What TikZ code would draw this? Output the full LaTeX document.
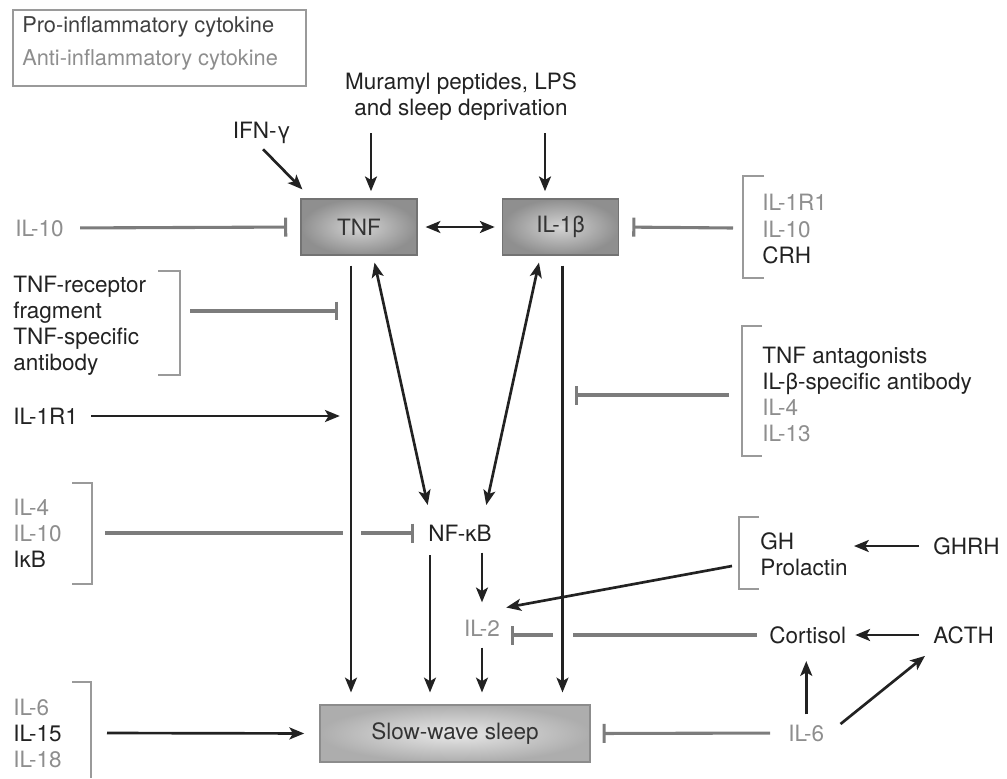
\documentclass[tikz,border=0pt]{standalone}
\usepackage{fontspec}
\setmainfont{TeX Gyre Heros}
\usetikzlibrary{arrows.meta}
\definecolor{protext}{HTML}{222222}
\definecolor{antitext}{HTML}{8E8E8E}
\definecolor{inhibgray}{HTML}{7C7C7C}
\definecolor{framegray}{HTML}{9A9A9A}

\begin{document}
\begin{tikzpicture}[
    x=0.025cm, y=-0.025cm,
    >={Stealth[length=10.5pt,width=8.5pt,inset=2.5pt]},
    pro/.style={text=protext, inner sep=0pt, align=left, font=\fontsize{16}{18.5}\selectfont},
    anti/.style={pro, text=antitext},
    cytokine/.style={draw=black!55, line width=0.8pt, inner color=black!17, outer color=black!44, minimum width=2.9cm, minimum height=1.4cm, text=black!80, font=\fontsize{16}{18.5}\selectfont},
    sleepbox/.style={cytokine, draw=black!45, inner color=black!9, outer color=black!32, minimum width=6.75cm, minimum height=1.425cm},
    act/.style={->, line width=1.9pt, draw=protext},
    twoway/.style={<->, line width=1.9pt, draw=protext},
    inhib/.style={-{Bar[width=13.5pt]}, line width=2.2pt, draw=inhibgray},
    plain/.style={line width=2.2pt, draw=inhibgray},
    bracket/.style={line width=0.9pt, draw=framegray}
]
\useasboundingbox (0,0) rectangle (1007,778);

% legend
\node[pro, anchor=west, text=black!75, font=\fontsize{15.5}{18}\selectfont] (leg-pro) at (22,27) {Pro-inflammatory cytokine};
\node[anti, anchor=west, font=\fontsize{15.5}{18}\selectfont] (leg-anti) at (22,60) {Anti-inflammatory cytokine};
\draw[bracket] (13,10) rectangle (306,86);

% main cytokines
\node[pro, align=center] (stim) at (461,97) {Muramyl peptides, LPS\\and sleep deprivation};
\node[pro] (ifn) at (262,133) {IFN-γ};
\node[cytokine] (tnf) at (359,227) {TNF};
\node[cytokine] (il1b) at (560.5,227) {IL-1β};
\node[sleepbox] (sws) at (455,733.5) {Slow-wave sleep};

\coordinate (tnf-in) at ([shift={(12,0)}]tnf.north);
\coordinate (il1b-in) at ([shift={(-15.5,0)}]il1b.north);
\coordinate (tnf-out) at ([shift={(-8,0)}]tnf.south);
\coordinate (il1b-out) at ([shift={(2,0)}]il1b.south);

\draw[act, shorten <=0.18cm] ([shift={(-4,0)}]ifn.south) -- ([shift={(2,-9)}]tnf.north west);
\draw[act, shorten <=0.3cm, shorten >=0.18cm] (stim.south -| tnf-in) -- (tnf-in);
\draw[act, shorten <=0.3cm, shorten >=0.18cm] (stim.south -| il1b-in) -- (il1b-in);
\draw[twoway, shorten <=0.2cm, shorten >=0.18cm] (tnf.east) -- (il1b.west);

% left of TNF
\node[anti, anchor=west] (il10-l) at (15,228) {IL-10};
\draw[inhib, shorten <=0.4cm, shorten >=0.33cm] (il10-l.east) -- (tnf.west);

% right of IL-1b
\node[anti, anchor=west] (grp-il1b) at (762,229) {IL-1R1\\IL-10\\\textcolor{protext}{CRH}};
\draw[bracket] (764,176) -| (743,278) -- (764,278);
\coordinate (brk-il1b) at (733,228);
\draw[inhib, shorten >=0.33cm] (brk-il1b) -- (il1b.east);

% TNF-receptor group
\node[pro, anchor=west] (grp-tnfr) at (13,326) {TNF-receptor\\fragment\\TNF-specific\\antibody};
\draw[bracket] (158,271) -| (180,375) -- (158,375);
\coordinate (brk-tnfr) at (190,311);
\coordinate (x-tnfr) at (brk-tnfr -| tnf-out);
\draw[inhib, shorten >=0.33cm] (brk-tnfr) -- (x-tnfr);

\node[pro, anchor=west] (il1r1) at (13,416) {IL-1R1};
\draw[act, shorten <=0.33cm, shorten >=0.28cm] (il1r1.east) -- (il1r1.east -| tnf-out);

% NF-kB
\node[pro] (nfkb) at (460,533) {NF-κB};
\draw[twoway, shorten <=0.18cm, shorten >=0.5cm] ([shift={(14,0)}]tnf.south) -- ([shift={(-28,0)}]nfkb.north);
\draw[twoway, shorten <=0.18cm, shorten >=0.5cm] ([shift={(-20,0)}]il1b.south) -- ([shift={(22,0)}]nfkb.north);

\node[anti, anchor=west] (grp-ikb) at (13,533) {IL-4\\IL-10\\\textcolor{protext}{IκB}};
\draw[bracket] (72,483) -| (92,584) -- (72,584);
\coordinate (brk-ikb) at (105,533);
\coordinate (x-ikb) at (brk-ikb -| tnf-out);
\draw[plain] (brk-ikb) -- ([shift={(-8,0)}]x-ikb);
\draw[inhib, shorten >=0.36cm] ([shift={(10,0)}]x-ikb) -- (nfkb.west);

% IL-2
\node[anti] (il2) at (482,628) {IL-2};
\coordinate (nfkb-l) at ([shift={(-30,0)}]nfkb.south);
\draw[act, shorten <=0.35cm, shorten >=0.3cm] (nfkb-l) -- (nfkb-l |- sws.north);
\draw[act, shorten <=0.28cm, shorten >=0.43cm] (nfkb.south -| il2) -- (il2.north);
\draw[act, shorten <=0.28cm, shorten >=0.3cm] (il2.south) -- (il2.south |- sws.north);

% to slow-wave sleep
\draw[act, shorten <=0.25cm, shorten >=0.3cm] (tnf-out) -- (tnf-out |- sws.north);
\draw[act, shorten <=0.25cm, shorten >=0.3cm] (il1b-out) -- (il1b-out |- sws.north);

% antagonists
\node[pro, anchor=west] (grp-ant) at (762,394) {TNF antagonists\\IL-β-specific antibody\\\textcolor{antitext}{IL-4}\\\textcolor{antitext}{IL-13}};
\draw[bracket] (762,326) -| (742,456) -- (762,456);
\coordinate (brk-ant) at (729,395);
\draw[inhib, shorten >=0.3cm] (brk-ant) -- (brk-ant -| il1b-out);

% GH and prolactin
\node[pro, anchor=west] (grp-gh) at (760,554.5) {GH\\Prolactin};
\draw[bracket] (759,517) -| (739,589) -- (759,589);
\node[pro, anchor=west] (ghrh) at (933,546) {GHRH};
\draw[act, shorten <=0.35cm, shorten >=0.15cm] (ghrh.west) -- (ghrh.west -| grp-gh.east);
\coordinate (brk-gh) at (732,566);
\draw[act] (brk-gh) -- ([shift={(6,-12)}]il2.north east);

% cortisol axis
\node[pro, anchor=west] (cort) at (769,635) {Cortisol};
\node[pro, anchor=west] (acth) at (933,635) {ACTH};
\draw[act, shorten <=0.35cm, shorten >=0.22cm] (acth.west) -- (cort.east);
\coordinate (x-cort) at (cort.west -| il1b-out);
\draw[plain, shorten <=0.3cm] (cort.west) -- ([shift={(10,0)}]x-cort);
\draw[inhib, shorten >=0.26cm] ([shift={(-10,0)}]x-cort) -- (il2.east |- cort.west);

\node[anti, anchor=west] (il6r) at (788,733) {IL-6};
\draw[act, shorten <=0.25cm, shorten >=0.43cm] (il6r.north) -- (il6r.north |- cort.south);
\draw[act] ([shift={(16,-9)}]il6r.east) -- ([shift={(-8,12)}]acth.south west);
\draw[inhib, shorten <=0.45cm, shorten >=0.3cm] (il6r.west) -- (sws.east);

% IL-15 group
\node[anti, anchor=west] (grp-il15) at (13,733) {IL-6\\\textcolor{protext}{IL-15}\\IL-18};
\draw[bracket] (72,682) -| (91,778);
\coordinate (brk-il15) at (107,733);
\draw[act, shorten >=0.38cm] (brk-il15) -- (sws.west);
\end{tikzpicture}
\end{document}
